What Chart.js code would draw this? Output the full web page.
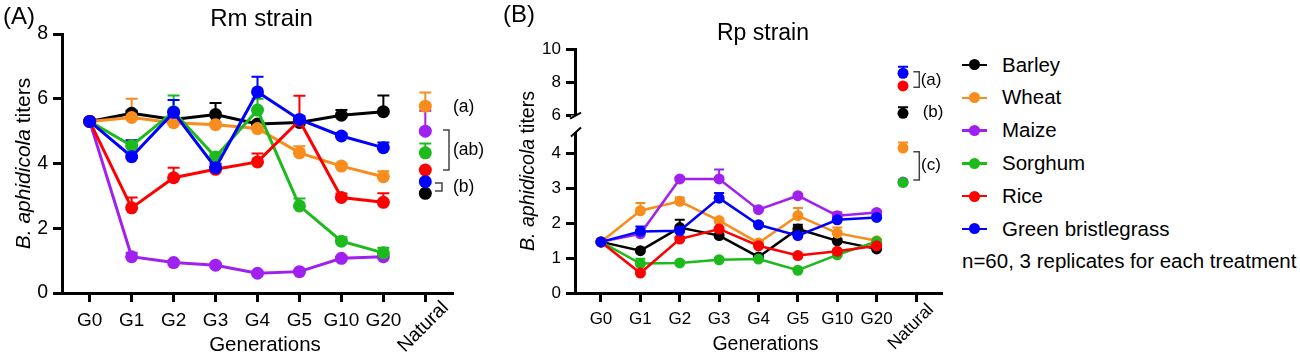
<!DOCTYPE html>
<html>
<head>
<meta charset="utf-8">
<script src="https://cdn.jsdelivr.net/npm/chart.js@4/dist/chart.umd.min.js"></script>
<style>
body { margin: 0; background: #fff; width: 1300px; height: 363px; position: relative; overflow: hidden; font-family: "Liberation Sans", Arial, sans-serif; }
#rm { position: absolute; left: 0; top: 0; }
#rp { position: absolute; left: 470px; top: 0; }
#legend { position: absolute; left: 962px; top: 48.6px; font-size: 20.5px; line-height: 32.8px; color: #000; }
.row { display: flex; align-items: center; white-space: nowrap; }
.key { position: relative; width: 25px; height: 2.5px; margin-right: 15px; }
.key i { position: absolute; left: 7px; top: -4.25px; width: 11px; height: 11px; border-radius: 50%; }
</style>
</head>
<body>
<canvas id="rm" width="500" height="363"></canvas>
<canvas id="rp" width="480" height="363"></canvas>
<div id="legend"></div>
<script>
const generations = ['G0', 'G1', 'G2', 'G3', 'G4', 'G5', 'G10', 'G20'];
const naturalLabel = 'Natural';
const hosts = ['Barley', 'Wheat', 'Maize', 'Sorghum', 'Rice', 'Green bristlegrass'];
const hostColors = ['#000000', '#F88D1E', '#A020F0', '#1DBA1D', '#FF0000', '#0000FF'];
const note = 'n=60, 3 replicates for each treatment';

// Rm strain, mean titer per generation
const rmBarley  = [5.3, 5.55, 5.36, 5.51, 5.22, 5.27, 5.49, 5.6];
const rmWheat   = [5.3, 5.42, 5.26, 5.2, 5.08, 4.33, 3.92, 3.59];
const rmMaize   = [5.3, 1.12, 0.94, 0.86, 0.61, 0.66, 1.07, 1.12];
const rmSorghum = [5.3, 4.55, 5.6, 4.2, 5.65, 2.69, 1.6, 1.24];
const rmRice    = [5.3, 2.63, 3.56, 3.82, 4.05, 5.33, 2.95, 2.8];
const rmBristle = [5.3, 4.21, 5.58, 3.87, 6.21, 5.36, 4.85, 4.49];
// upper error bars
const rmBarleyErr  = [0, 0.08, 0.08, 0.36, 0.08, 0.08, 0.16, 0.5];
const rmWheatErr   = [0, 0.58, 0.08, 0.06, 0.1, 0.2, 0.08, 0.17];
const rmMaizeErr   = [0, 0.12, 0.05, 0.05, 0.05, 0.05, 0.05, 0.05];
const rmSorghumErr = [0, 0.15, 0.5, 0.12, 0.35, 0.23, 0.12, 0.16];
const rmRiceErr    = [0, 0.32, 0.31, 0.08, 0.26, 0.76, 0.12, 0.28];
const rmBristleErr = [0, 0.51, 0.38, 0.12, 0.47, 0.1, 0.08, 0.16];
// natural population (same host order)
const rmNatural    = [3.08, 5.77, 5.0, 4.33, 3.8, 3.44];
const rmNaturalErr = [0, 0.42, 0.63, 0.29, 0, 0];
const rmGroups = ['(a)', '(ab)', '(b)'];

// Rp strain
const rpBarley  = [1.46, 1.21, 1.87, 1.64, 1.03, 1.83, 1.49, 1.26];
const rpWheat   = [1.46, 2.35, 2.62, 2.07, 1.43, 2.21, 1.71, 1.49];
const rpMaize   = [1.46, 1.69, 3.26, 3.26, 2.38, 2.78, 2.21, 2.3];
const rpSorghum = [1.46, 0.84, 0.86, 0.95, 0.97, 0.65, 1.09, 1.47];
const rpRice    = [1.46, 0.57, 1.54, 1.83, 1.35, 1.07, 1.19, 1.35];
const rpBristle = [1.46, 1.76, 1.78, 2.71, 1.95, 1.64, 2.09, 2.16];
const rpBarleyErr  = [0, 0.05, 0.22, 0.05, 0.05, 0.12, 0.05, 0.05];
const rpWheatErr   = [0, 0.22, 0.11, 0.05, 0.05, 0.22, 0.16, 0.05];
const rpMaizeErr   = [0, 0.05, 0.05, 0.27, 0.05, 0.05, 0.09, 0.05];
const rpSorghumErr = [0, 0.14, 0.05, 0.05, 0.05, 0.05, 0.05, 0.05];
const rpRiceErr    = [0, 0.05, 0.05, 0.22, 0.05, 0.05, 0.05, 0.05];
const rpBristleErr = [0, 0.14, 0.05, 0.15, 0.05, 0.05, 0.05, 0.05];
const rpNatural    = [6.1, 4.14, 3.17, 3.16, 7.76, 8.53];
const rpNaturalErr = [0.37, 0.16, 0.05, 0.05, 0, 0.4];
const rpGroups = ['(a)', '(b)', '(c)'];

const rmYTicks = [0, 2, 4, 6, 8];
const rpLowTicks = [0, 1, 2, 3, 4];
const rpHighTicks = [6, 8, 10];

const FONT = '"Liberation Sans", Arial, sans-serif';
Chart.defaults.font.family = FONT;
Chart.defaults.color = '#000';

// error bars (upper only, T-shaped)
const errorBars = {
    id: 'errorBars',
    beforeDatasetsDraw(chart, args, opts) {
        const ctx = chart.ctx;
        chart.data.datasets.forEach((ds, i) => {
            if (!ds.errors) return;
            const meta = chart.getDatasetMeta(i);
            const ys = chart.scales[meta.yAxisID];
            ctx.save();
            ctx.strokeStyle = ds.borderColor;
            ctx.lineWidth = opts.width;
            meta.data.forEach((pt, j) => {
                const e = ds.errors[j];
                if (!e) return;
                const top = ys.getPixelForValue(ds.data[j].y + e);
                ctx.beginPath();
                ctx.moveTo(pt.x, pt.y);
                ctx.lineTo(pt.x, top);
                ctx.moveTo(pt.x - opts.cap, top);
                ctx.lineTo(pt.x + opts.cap, top);
                ctx.stroke();
            });
            ctx.restore();
        });
    }
};

function text(ctx, str, x, y, size, align) {
    ctx.font = size + 'px ' + FONT;
    ctx.textAlign = align || 'center';
    ctx.textBaseline = 'middle';
    ctx.fillStyle = '#000';
    ctx.fillText(str, x, y);
}

function yTitle(ctx, x, y, size) {
    const it = 'italic ' + size + 'px ' + FONT;
    const rg = size + 'px ' + FONT;
    ctx.save();
    ctx.translate(x, y);
    ctx.rotate(-Math.PI / 2);
    ctx.font = it;
    const w1 = ctx.measureText('B. aphidicola ').width;
    ctx.font = rg;
    const w2 = ctx.measureText('titers').width;
    const sx = -(w1 + w2) / 2;
    ctx.textAlign = 'left';
    ctx.textBaseline = 'middle';
    ctx.fillStyle = '#000';
    ctx.font = it;
    ctx.fillText('B. aphidicola ', sx, 0);
    ctx.font = rg;
    ctx.fillText('titers', sx + w1, 0);
    ctx.restore();
}

function rotText(ctx, str, x, y, size) {
    ctx.save();
    ctx.translate(x, y);
    ctx.rotate(-Math.PI / 4);
    text(ctx, str, 0, 0, size, 'center');
    ctx.restore();
}

function bracket(ctx, x0, x1, y0, y1) {
    ctx.save();
    ctx.strokeStyle = '#444';
    ctx.lineWidth = 1.5;
    ctx.beginPath();
    ctx.moveTo(x0, y0);
    ctx.lineTo(x1, y0);
    ctx.lineTo(x1, y1);
    ctx.lineTo(x0, y1);
    ctx.stroke();
    ctx.restore();
}

function buildSets(means, errs, natural, naturalErr, naturalX, axisFor, radius, width) {
    const sets = [];
    hosts.forEach((h, i) => {
        sets.push({
            label: h,
            data: means[i].map((v, j) => ({ x: j, y: v })),
            errors: errs[i],
            yAxisID: axisFor(means[i][0]),
            borderColor: hostColors[i],
            backgroundColor: hostColors[i],
            borderWidth: width,
            pointRadius: radius,
            pointBorderWidth: 0,
            tension: 0,
            order: 10 + hosts.length - i
        });
        sets.push({
            label: h + ' natural',
            data: [{ x: naturalX, y: natural[i] }],
            errors: [naturalErr[i]],
            yAxisID: axisFor(natural[i]),
            showLine: false,
            borderColor: hostColors[i],
            backgroundColor: hostColors[i],
            pointRadius: radius,
            pointBorderWidth: 0,
            order: hosts.length - i
        });
    });
    return sets;
}

function xScale(size) {
    return {
        type: 'linear', min: -0.66, max: 8.66,
        afterFit: s => { s.height = 70; },
        afterBuildTicks: s => { s.ticks = [0, 1, 2, 3, 4, 5, 6, 7, 8].map(v => ({ value: v })); },
        ticks: { stepSize: 1, autoSkip: false, maxRotation: 0, padding: 7, font: { size: size },
                 callback: v => generations[v] !== undefined ? generations[v] : '' },
        grid: { display: true, drawOnChartArea: false, drawTicks: true, tickLength: 9, tickWidth: 3, color: '#000' },
        border: { display: true, color: '#000', width: 3 }
    };
}

function yScale(min, max, tickVals, size, width, extra) {
    return Object.assign({
        type: 'linear', position: 'left', min: min, max: max,
        afterFit: s => { s.width = width; },
        afterBuildTicks: s => { s.ticks = tickVals.map(v => ({ value: v })); },
        ticks: { padding: 5, font: { size: size } },
        grid: { display: true, drawOnChartArea: false, drawTicks: true, tickLength: 9, tickWidth: 3, color: '#000' },
        border: { display: true, color: '#000', width: 3 }
    }, extra || {});
}

// ---- panel A
const rmText = {
    id: 'rmText',
    afterDraw(chart) {
        const ctx = chart.ctx, ca = chart.chartArea;
        text(ctx, '(A)', 19, 17.5, 24);
        text(ctx, 'Rm strain', 261.5, 19.5, 24);
        text(ctx, 'Generations', 265, 345, 20.5);
        yTitle(ctx, 24, (ca.top + ca.bottom) / 2, 21);
        rotText(ctx, naturalLabel, chart.scales.x.getPixelForValue(8) - 2, 327, 19.5);
        text(ctx, rmGroups[0], 453, 107, 17.5, 'left');
        bracket(ctx, 443, 449, 130, 170);
        text(ctx, rmGroups[1], 453, 150, 17.5, 'left');
        bracket(ctx, 435, 442, 183, 191);
        text(ctx, rmGroups[2], 453, 187, 17.5, 'left');
    }
};

new Chart(document.getElementById('rm'), {
    type: 'line',
    data: {
        datasets: buildSets(
            [rmBarley, rmWheat, rmMaize, rmSorghum, rmRice, rmBristle],
            [rmBarleyErr, rmWheatErr, rmMaizeErr, rmSorghumErr, rmRiceErr, rmBristleErr],
            rmNatural, rmNaturalErr, 8, () => 'y', 6.5, 3)
    },
    options: {
        responsive: false,
        animation: false,
        layout: { padding: { top: 34, right: 47, bottom: 0, left: 0 } },
        scales: {
            x: xScale(19),
            y: yScale(0, 8, rmYTicks, 19.5, 62)
        },
        plugins: { legend: { display: false }, tooltip: { enabled: false }, errorBars: { width: 2, cap: 6 } }
    },
    plugins: [errorBars, rmText]
});

// ---- panel B (broken y axis: two stacked scales)
const rpNaturalX = 7.67;
const rpText = {
    id: 'rpText',
    afterDraw(chart) {
        const ctx = chart.ctx, ca = chart.chartArea;
        const lo = chart.scales.yLow, hi = chart.scales.yHigh;
        // axis break
        const gapTop = hi.getPixelForValue(6) + 0.5;
        const gapBot = lo.top;
        ctx.fillStyle = '#fff';
        ctx.fillRect(ca.left - 4, gapTop, 8, gapBot - gapTop);
        ctx.save();
        ctx.strokeStyle = '#000';
        ctx.lineWidth = 2;
        ctx.beginPath();
        ctx.moveTo(ca.left - 5, gapTop + 3);
        ctx.lineTo(ca.left + 6, gapTop - 3);
        ctx.moveTo(ca.left - 4, gapBot + 4.5);
        ctx.lineTo(ca.left + 6, gapBot - 4.5);
        ctx.stroke();
        ctx.restore();

        text(ctx, '(B)', 49, 15.5, 24);
        text(ctx, 'Rp strain', 293, 33.5, 23);
        text(ctx, 'Generations', 295.5, 345, 19.5);
        yTitle(ctx, 58.5, (ca.top + ca.bottom) / 2, 19.6);
        rotText(ctx, naturalLabel, chart.scales.x.getPixelForValue(8) - 5, 327, 17.5);
        bracket(ctx, 443.3, 449.3, 71.7, 87.3);
        text(ctx, rpGroups[0], 450.7, 80, 17, 'left');
        text(ctx, rpGroups[1], 452.7, 112.3, 17, 'left');
        bracket(ctx, 443.3, 449.3, 151.7, 180);
        text(ctx, rpGroups[2], 451, 165, 17, 'left');
    }
};

new Chart(document.getElementById('rp'), {
    type: 'line',
    data: {
        datasets: buildSets(
            [rpBarley, rpWheat, rpMaize, rpSorghum, rpRice, rpBristle],
            [rpBarleyErr, rpWheatErr, rpMaizeErr, rpSorghumErr, rpRiceErr, rpBristleErr],
            rpNatural, rpNaturalErr, rpNaturalX, v => (v > 5 ? 'yHigh' : 'yLow'), 5.5, 2.5)
    },
    options: {
        responsive: false,
        animation: false,
        layout: { padding: { top: 49, right: 8, bottom: 0, left: 0 } },
        scales: {
            x: xScale(17),
            yLow: yScale(0, 4.6, rpLowTicks, 17, 105, { stack: 'rp', stackWeight: 161 }),
            yHigh: yScale(4.97, 10, rpHighTicks, 17, 105, { stack: 'rp', stackWeight: 83 })
        },
        plugins: { legend: { display: false }, tooltip: { enabled: false }, errorBars: { width: 2, cap: 5 } }
    },
    plugins: [errorBars, rpText]
});

// ---- legend
const legend = document.getElementById('legend');
hosts.forEach((h, i) => {
    const row = document.createElement('div');
    row.className = 'row';
    row.innerHTML = '<span class="key" style="background:' + hostColors[i] + '"><i style="background:' + hostColors[i] + '"></i></span>' + h;
    legend.appendChild(row);
});
const noteRow = document.createElement('div');
noteRow.className = 'row';
noteRow.textContent = note;
legend.appendChild(noteRow);
</script>
</body>
</html>
